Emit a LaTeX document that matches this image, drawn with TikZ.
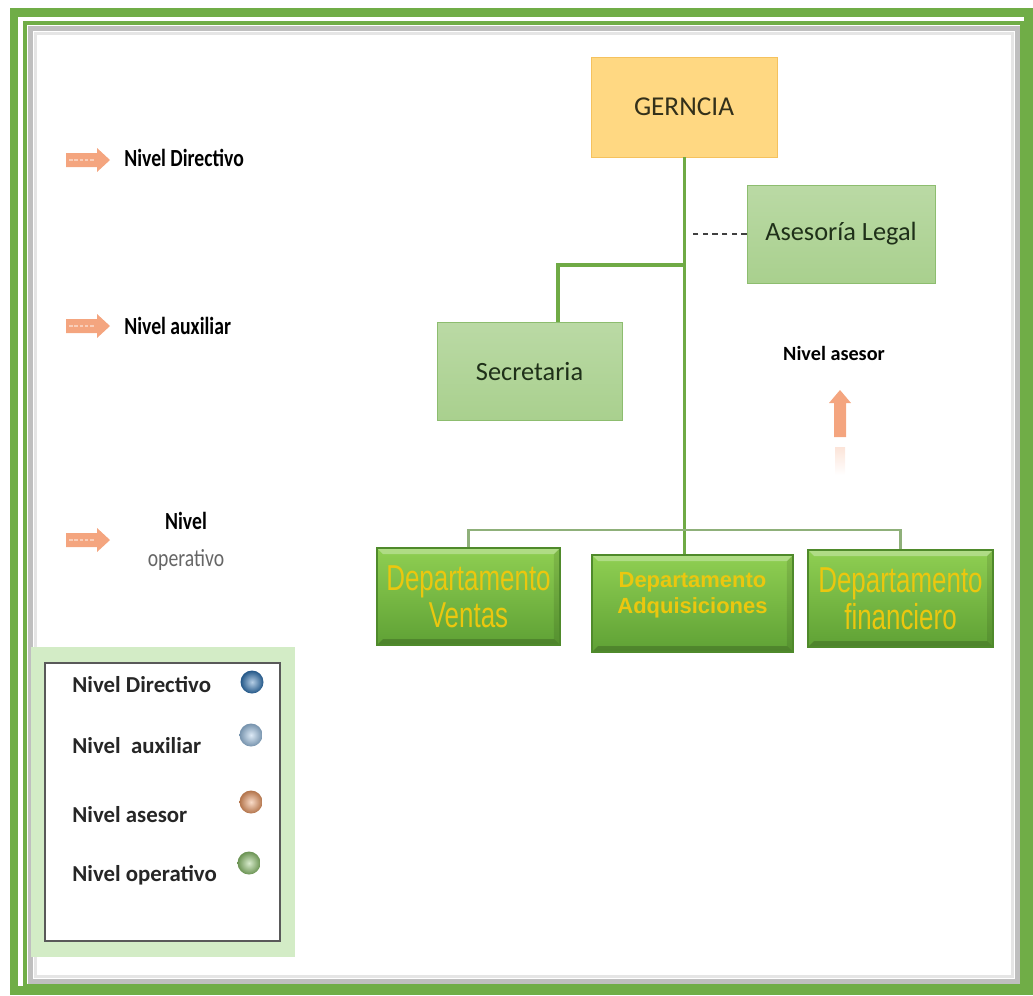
\documentclass[tikz,border=0pt]{standalone}
\usepackage{fontspec}
\setmainfont{Carlito}
\newfontfamily\condfont[FakeStretch=0.8]{Carlito}
\newfontfamily\deptfont[FakeStretch=0.72]{Liberation Sans}
\newfontfamily\deptboldfont{Liberation Sans}
\usepackage{xcolor}
\usepackage{tikz}
\usetikzlibrary{arrows.meta,positioning,shadings}

\definecolor{framegreen}{HTML}{70AD47}
\definecolor{linegreen}{HTML}{6FAA45}
\definecolor{busgray}{HTML}{8FB07A}
\definecolor{gerfill}{HTML}{FFD882}
\definecolor{gerdraw}{HTML}{F5C25E}
\definecolor{gertext}{HTML}{33301A}
\definecolor{boxgreen}{HTML}{A9D08E}
\definecolor{boxdraw}{HTML}{8DBD6F}
\definecolor{depttop}{HTML}{8FCF52}
\definecolor{deptbot}{HTML}{5FA135}
\definecolor{deptdraw}{HTML}{4F8A2B}
\definecolor{deptgold}{HTML}{EBC70F}
\definecolor{darktext}{HTML}{1F3019}
\definecolor{arrorange}{HTML}{F4A57F}
\definecolor{legendgreen}{HTML}{D3ECC6}
\definecolor{dashgray}{HTML}{404040}
\definecolor{balldir}{HTML}{2E74B5}
\definecolor{ballaux}{HTML}{9DC3E6}
\definecolor{ballase}{HTML}{EE9A63}
\definecolor{ballope}{HTML}{8EC46E}

\begin{document}
\begin{tikzpicture}[x=0.02cm, y=-0.02cm,
    unit/.style={draw=boxdraw, top color=boxgreen!80!white, bottom color=boxgreen, minimum width=3.7cm, minimum height=1.95cm, font=\fontsize{15}{18}\selectfont, text=darktext},
    dept/.style={draw=deptdraw, line width=0.8pt, top color=depttop, bottom color=deptbot, minimum height=1.94cm, text=deptgold, align=center, font=\deptfont\fontsize{20.5}{21}\selectfont,
        path picture={
            \fill[white, opacity=0.3] (path picture bounding box.north west) -- (path picture bounding box.north east)
                -- ([xshift=-0.12cm, yshift=-0.12cm]path picture bounding box.north east) -- ([xshift=0.12cm, yshift=-0.12cm]path picture bounding box.north west) -- cycle;
            \fill[black, opacity=0.18] (path picture bounding box.south west) -- (path picture bounding box.south east)
                -- ([xshift=-0.12cm, yshift=0.12cm]path picture bounding box.south east) -- ([xshift=0.12cm, yshift=0.12cm]path picture bounding box.south west) -- cycle;
            \fill[black, opacity=0.1] (path picture bounding box.north east) -- (path picture bounding box.south east)
                -- ([xshift=-0.12cm, yshift=0.12cm]path picture bounding box.south east) -- ([xshift=-0.12cm, yshift=-0.12cm]path picture bounding box.north east) -- cycle;
        }},
    lvltext/.style={font=\condfont\bfseries\fontsize{14}{16}\selectfont, anchor=west, inner xsep=0},
    legtext/.style={font=\bfseries\fontsize{13}{15}\selectfont, anchor=west, inner xsep=0, text=black!85},
    legball/.style={circle, minimum size=0.46cm, inner sep=0, shading=radial, inner color=#1!35!white, outer color=#1!75!black},
    orgline/.style={linegreen, line width=1.7pt},
    busline/.style={busgray, line width=1.2pt}
]
\useasboundingbox (0,0) rectangle (1033,995);

% frame
\draw[framegreen, line width=0.18cm] (14,12) rectangle (1028.5,990.5);
\draw[gray!50, line width=0.1cm] (30,28) rectangle (1017,981);
\draw[gray!20, line width=0.06cm] (35,33) rectangle (1012,976);
\draw[framegreen, line width=0.07cm] (25,23) rectangle (1022,986);

% levels on the left
\foreach \y in {160, 326, 540} {
    \fill[arrorange] (66,\y-7) -- (97,\y-7) -- (97,\y-12) -- (110,\y) -- (97,\y+12) -- (97,\y+7) -- (66,\y+7) -- cycle;
    \draw[arrorange!55!white, line width=1.2pt, dash pattern=on 2pt off 1pt] (69,\y) -- (95,\y);
}
\node[lvltext] (lvldir) at (124,158) {Nivel Directivo};
\node[lvltext] (lvlaux) at (124,326) {Nivel auxiliar};
\node[align=center, font=\condfont\fontsize{14}{21}\selectfont] (lvlope) at (186,541) {\textbf{Nivel}\\{\color{black!60}operativo}};

% legend
\node[fill=legendgreen, minimum width=5.28cm, minimum height=6.2cm] (legbg) at (163,802) {};
\node[draw=gray!70!black, line width=1.2pt, fill=white, minimum width=4.7cm, minimum height=5.56cm] (legbox) at (162.5,802) {};
\node[legtext] (legdir) at (72,685) {Nivel Directivo};
\node[legtext] (legaux) at (72,746) {Nivel\ \ auxiliar};
\node[legtext] (legase) at (72,815) {Nivel asesor};
\node[legtext] (legope) at (72,875) {Nivel operativo};
\node[legball=balldir] (balldir) at (252,682) {};
\node[legball=ballaux] (ballaux) at (251,735) {};
\node[legball=ballase] (ballase) at (251,802) {};
\node[legball=ballope] (ballope) at (249,863) {};

% chart
\node[draw=gerdraw, fill=gerfill, minimum width=3.72cm, minimum height=2cm, font=\fontsize{15.5}{18}\selectfont, text=gertext] (ger) at (684,107) {GERNCIA};
\node[unit, minimum width=3.76cm, minimum height=1.96cm] (ase) at (841,234) {Asesoría Legal};
\node[unit] (sec) at (529.5,371.5) {Secretaria};
\node[dept, minimum width=3.66cm] (ven) at (468.5,596.5) {Departamento\\Ventas};
\node[dept, minimum width=4.02cm, font=\deptboldfont\bfseries\fontsize{12.5}{14.7}\selectfont] (adq) at (692.5,603.5) {Departamento\\Adquisiciones\\[-3pt]\mbox{}};
\node[dept, minimum width=3.7cm] (fin) at (900.5,598.5) {Departamento\\financiero};

\coordinate (secjoin) at (683,265);
\coordinate (busmid) at (683,530);
\draw[orgline] (ger.south) -- (ger.south |- adq.north);
\draw[orgline, line width=2.6pt] (secjoin) -| (sec.north -| 558,0);
\draw[dashgray, line width=1pt, dash pattern=on 3pt off 2.5pt] (ase.west) -- (ase.west -| 690,0);
\draw[busline] (ven.north) |- (busmid) -| (fin.north);

% advisory level
\node[font=\bfseries\fontsize{11.5}{14}\selectfont] (lvlase) at (834,353) {Nivel asesor};
\fill[arrorange] (834,437) -- (834,403) -- (829,403) -- (840,390) -- (851,403) -- (846,403) -- (846,437) -- cycle;
\shade[top color=arrorange!30!white, bottom color=white] (835,447) rectangle (845,475);

\end{tikzpicture}
\end{document}
